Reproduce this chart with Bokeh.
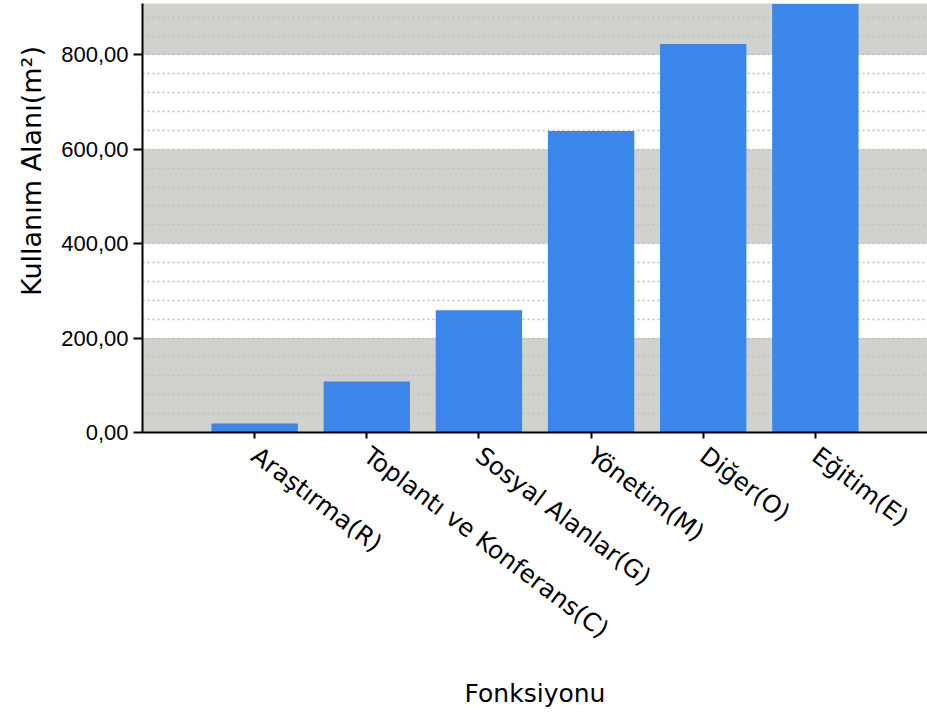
from bokeh.plotting import figure
from bokeh.models import FactorRange, Range1d, SingleIntervalTicker, CustomJSTickFormatter, Title
from bokeh.embed import file_html
from bokeh.resources import INLINE

categories = ["Araştırma(R)", "Toplantı ve Konferans(C)", "Sosyal Alanlar(G)",
              "Yönetim(M)", "Diğer(O)", "Eğitim(E)"]
values = [19, 108, 259, 639, 823, 908]

p = figure(
    x_range=FactorRange(factors=categories, range_padding=0.5, range_padding_units="absolute"),
    y_range=Range1d(0, 909),
    width=927, height=715,
    output_backend="svg", toolbar_location=None,
    min_border_left=142, min_border_right=0, min_border_top=3, min_border_bottom=283,
)
p.outline_line_color = None
p.background_fill_color = "#d1d1ce"
p.border_fill_color = "white"

p.vbar(x=categories, top=values, width=0.77, fill_color="#3a86ea", line_color=None)

# grid
p.xgrid.grid_line_color = None
p.ygrid.grid_line_color = None
p.ygrid.band_fill_color = "white"
p.ygrid.band_fill_alpha = 1.0
p.ygrid.minor_grid_line_color = "#bdbdbd"
p.ygrid.minor_grid_line_dash = "2 3"
p.ygrid.minor_grid_line_width = 1.5

# y axis
yax = p.yaxis[0]
yax.ticker = SingleIntervalTicker(interval=200, num_minor_ticks=5)
yax.formatter = CustomJSTickFormatter(code="return tick.toFixed(2).replace('.', ',');")
yax.major_label_text_font = "Liberation Sans"
yax.major_label_text_font_size = "22px"
yax.major_label_text_color = "black"
yax.major_label_standoff = 5
yax.major_tick_out = 9
yax.major_tick_in = 0
yax.minor_tick_line_color = None
yax.axis_line_width = 2
yax.major_tick_line_width = 2
yax.axis_line_color = "black"

ytitle = Title(text="Kullanım  Alanı(m²)", align="right", offset=34, standoff=24,
               text_font="DejaVu Sans", text_font_size="27px", text_font_style="normal",
               text_color="black")
p.add_layout(ytitle, "left")

# x axis
xax = p.xaxis[0]
xax.axis_label = "Fonksiyonu"
xax.axis_label_text_font = "DejaVu Sans"
xax.axis_label_text_font_size = "25px"
xax.axis_label_text_font_style = "normal"
xax.axis_label_text_color = "black"
xax.axis_label_standoff = 21
xax.major_label_orientation = -0.645
xax.major_label_text_font = "DejaVu Sans"
xax.major_label_text_font_size = "24.5px"
xax.major_label_text_color = "black"
xax.major_label_standoff = 14
xax.major_tick_out = 6
xax.major_tick_in = 0
xax.minor_tick_line_color = None
xax.axis_line_width = 2
xax.major_tick_line_width = 2
xax.axis_line_color = "black"

open("out.html", "w").write(file_html(p, INLINE))
